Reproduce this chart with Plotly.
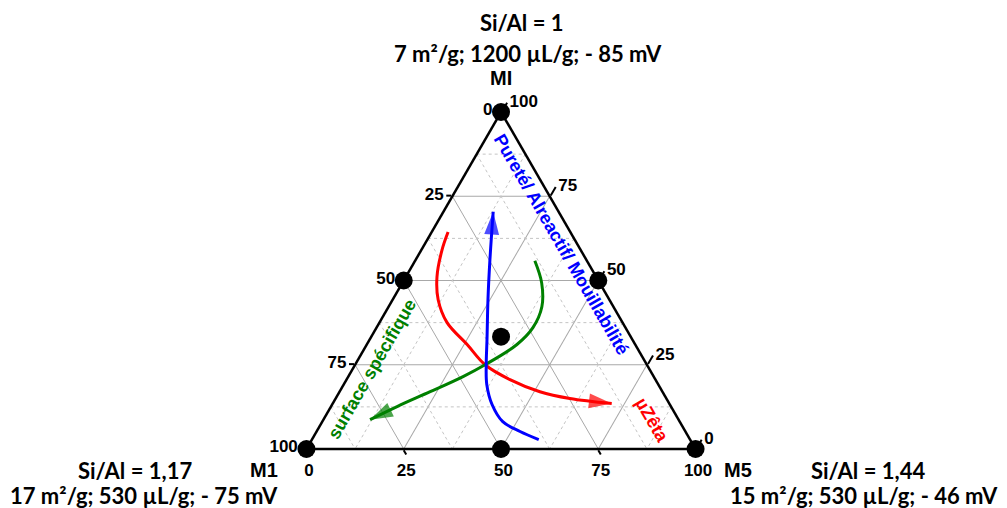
import plotly.graph_objects as go

# ---- data (percent: MI = top vertex, M1 = bottom-left, M5 = bottom-right) ----
dots_MI = [100, 0, 0, 50, 50, 0, 33.33]
dots_M1 = [0, 100, 0, 50, 0, 50, 33.33]
dots_M5 = [0, 0, 100, 0, 50, 50, 33.34]

blue_MI = [2.8, 5.2, 8.1, 13.2, 19.1, 25.0, 32.4, 44.3, 56.1, 70.4]
blue_M1 = [38.9, 42.5, 45.5, 45.7, 44.1, 41.3, 37.4, 31.2, 24.8, 16.8]
blue_M5 = [58.3, 52.3, 46.4, 41.1, 36.8, 33.7, 30.2, 24.5, 19.1, 12.8]

red_MI = [64.4, 59.1, 51.1, 44.3, 37.5, 31.0, 25.0, 20.6, 17.0, 15.0, 13.5]
red_M1 = [31.4, 35.6, 40.9, 44.0, 45.1, 43.2, 41.6, 37.4, 31.5, 24.8, 14.8]
red_M5 = [4.2, 5.3, 8.0, 11.7, 17.4, 25.8, 33.4, 42.0, 51.5, 60.2, 71.7]

green_MI = [55.9, 49.3, 42.2, 36.0, 31.0, 25.0, 21.5, 17.0, 12.6, 8.7]
green_M1 = [13.4, 14.9, 18.4, 23.8, 30.4, 41.6, 49.0, 59.7, 70.4, 79.3]
green_M5 = [30.8, 35.8, 39.4, 40.2, 38.6, 33.4, 29.5, 23.3, 17.0, 12.0]

major_ticks = [0, 25, 50, 75, 100]
major_labels = ["100", "75", "50", "25", "0"]
minor_ticks = [12.5, 37.5, 62.5, 87.5]

vertex_names = ["MI", "M1", "M5"]
vertex_props = [
    ("Si/Al = 1", "7 m²/g; 1200 µL/g; - 85 mV"),
    ("Si/Al = 1,17", "17 m²/g; 530 µL/g; - 75 mV"),
    ("Si/Al = 1,44", "15 m²/g; 530 µL/g; - 46 mV"),
]
trend_labels = ["Pureté/ Alreactif/ Mouillabilité", "surface spécifique", "µZêta"]

# page has an 8px body margin: figure sized to fill the rest of the 1007x508 window
OFF = 8
W, H = 1007 - OFF, 508 - OFF

fig = go.Figure()

# minor dotted grid
grid_style = dict(color="#c4c4c4", width=1, dash="dot")
for v in minor_ticks:
    fig.add_trace(go.Scatterternary(a=[v, v], b=[100 - v, 0], c=[0, 100 - v], mode="lines",
                                    line=grid_style, hoverinfo="skip", showlegend=False))
    fig.add_trace(go.Scatterternary(b=[v, v], a=[100 - v, 0], c=[0, 100 - v], mode="lines",
                                    line=grid_style, hoverinfo="skip", showlegend=False))
    fig.add_trace(go.Scatterternary(c=[v, v], a=[100 - v, 0], b=[0, 100 - v], mode="lines",
                                    line=grid_style, hoverinfo="skip", showlegend=False))


def add_curve(a, b, c, color):
    n = len(a)
    fig.add_trace(go.Scatterternary(
        a=a, b=b, c=c, mode="lines+markers", cliponaxis=False,
        line=dict(color=color, width=3, shape="spline"),
        marker=dict(symbol="arrow", size=[0] * (n - 1) + [24], angleref="previous",
                    color=color, line=dict(width=0)),
        hoverinfo="skip", showlegend=False))


add_curve(red_MI, red_M1, red_M5, "#ff0000")
add_curve(green_MI, green_M1, green_M5, "#008000")
add_curve(blue_MI, blue_M1, blue_M5, "#0000ff")

fig.add_trace(go.Scatterternary(a=dots_MI, b=dots_M1, c=dots_M5, mode="markers", cliponaxis=False,
                                marker=dict(color="black", size=18, line=dict(width=0)),
                                hoverinfo="skip", showlegend=False))

axis_common = dict(
    min=0, tickmode="array", tickvals=major_ticks, ticktext=major_labels,
    tickfont=dict(family="Liberation Sans", size=17, color="black", weight="bold"),
    ticks="outside", ticklen=5, tickwidth=1.5, tickcolor="black",
    showline=True, linecolor="black", linewidth=2.5,
    showgrid=True, gridcolor="#a8a8a8", gridwidth=1,
    title=dict(text=""),
)
caxis = dict(axis_common, ticklen=10)

fig.update_layout(
    width=W, height=H,
    margin=dict(l=0, r=0, t=0, b=0),
    paper_bgcolor="white",
    showlegend=False,
    ternary=dict(
        sum=100,
        bgcolor="white",
        domain=dict(x=[(306 - OFF) / W, (696 - OFF) / W], y=[1 - (449 - OFF) / H, 1 - (112 - OFF) / H]),
        aaxis=axis_common, baxis=axis_common, caxis=caxis,
    ),
)


def px(x, y):
    return (x - OFF) / W, 1 - (y - OFF) / H


anns = []
txt_font = dict(family="Lato", size=22, color="black", weight="bold")
name_font = dict(family="Liberation Sans", size=20, color="black", weight="bold")

for (x, y, t, anc) in [(522, 22, vertex_props[0][0], "center"), (528, 54, vertex_props[0][1], "center"),
                       (135, 470, vertex_props[1][0], "center"), (9, 495, vertex_props[1][1], "left"),
                       (868, 470, vertex_props[2][0], "center"), (999, 495, vertex_props[2][1], "right")]:
    xx, yy = px(x, y)
    anns.append(dict(x=xx, y=yy, xref="paper", yref="paper", text=t, showarrow=False,
                     xanchor=anc, yanchor="middle", font=txt_font, borderpad=0))

for (x, y, t) in [(501, 78, vertex_names[0]), (264, 470, vertex_names[1]), (738, 470, vertex_names[2])]:
    xx, yy = px(x, y)
    anns.append(dict(x=xx, y=yy, xref="paper", yref="paper", text=t, showarrow=False,
                     xanchor="center", yanchor="middle", font=name_font))

for (x, y, t, ang, col) in [(561, 244, trend_labels[0], 60, "#0000ff"),
                            (372, 369, trend_labels[1], -60, "#008000"),
                            (652, 420, trend_labels[2], 60, "#ff0000")]:
    xx, yy = px(x, y)
    anns.append(dict(x=xx, y=yy, xref="paper", yref="paper", text=t, showarrow=False,
                     xanchor="center", yanchor="middle", textangle=ang,
                     font=dict(family="Liberation Sans", size=18, color=col, weight="bold")))

fig.update_layout(annotations=anns)

fig.write_html("out.html")
